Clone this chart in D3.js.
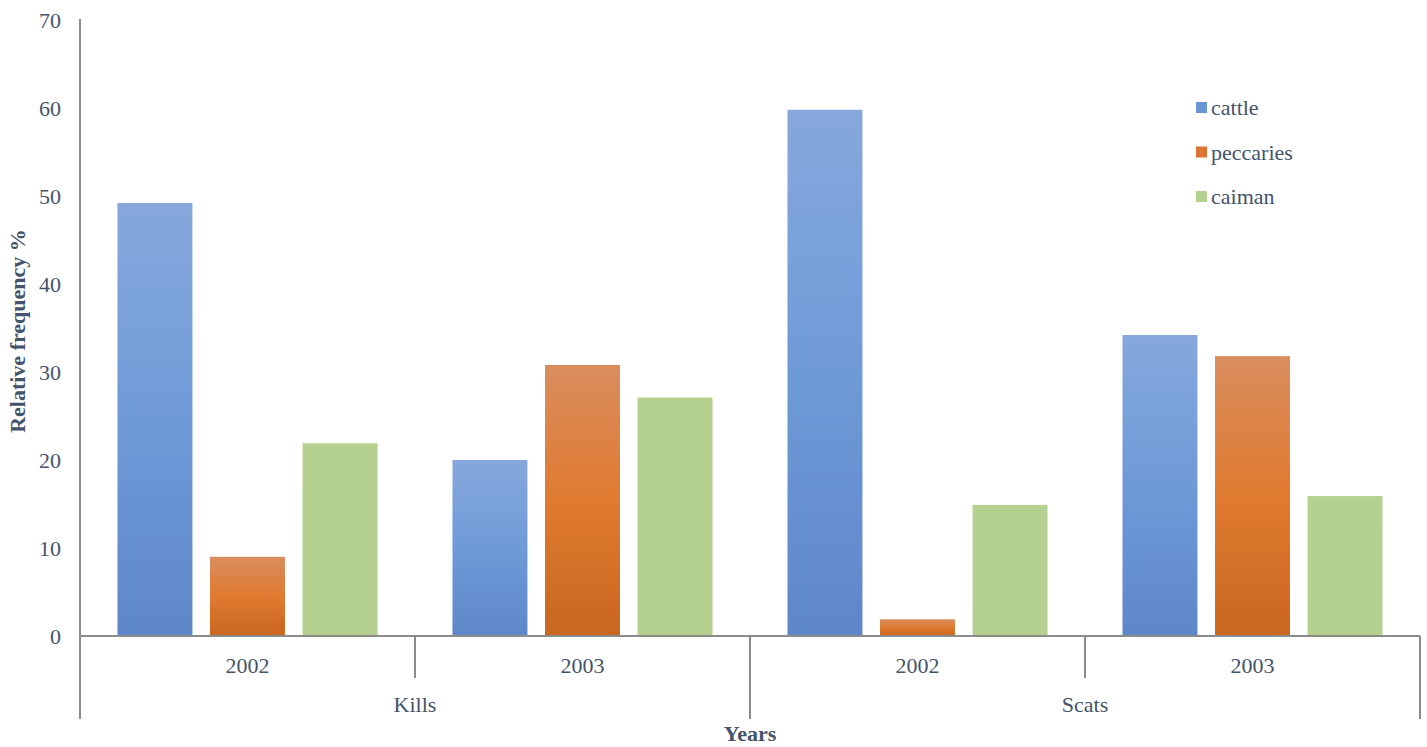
<!DOCTYPE html>
<html>
<head>
<meta charset="utf-8">
<script src="https://cdn.jsdelivr.net/npm/d3@7"></script>
<style>
  html, body { margin: 0; padding: 0; background: #fff; }
</style>
</head>
<body>
<svg id="chart" width="1427" height="747"></svg>
<script>
// Prey composition of jaguar kills and scats by year
const groups = ["Kills", "Scats"];
const years = ["2002", "2003"];
const series = ["cattle", "peccaries", "caiman"];
const cattle = [49.2, 20.0, 59.8, 34.2];
const peccaries = [9.0, 30.8, 1.9, 31.8];
const caiman = [21.9, 27.1, 14.9, 15.9];
const yTicks = [0, 10, 20, 30, 40, 50, 60, 70];

(function () {
  const FONT = '"Liberation Serif", "Times New Roman", serif';
  const TEXT = "#44546a";
  const FS = 22;
  const values = { cattle, peccaries, caiman };
  const categories = [];
  groups.forEach(g => years.forEach(y => categories.push({ group: g, year: y, key: g + "-" + y })));

  const svg = d3.select("#chart");
  const mLeft = 80, mRight = 1420, mTop = 20, mBottom = 636;

  const x0 = d3.scaleBand().domain(categories.map(c => c.key)).range([mLeft, mRight]).padding(0);
  const x1 = d3.scaleBand().domain(series).range([0, x0.bandwidth()]).paddingInner(0.19).paddingOuter(0.405);
  const y = d3.scaleLinear().domain([0, 70]).range([mBottom, mTop]);

  // vertical gradients for the bars
  const defs = svg.append("defs");
  const grads = {
    cattle: [["0%", "#86a8dc"], ["50%", "#6f9ad8"], ["100%", "#5d87c7"]],
    peccaries: [["0%", "#d98d5e"], ["50%", "#e07a30"], ["100%", "#c9661f"]],
    caiman: [["0%", "#b5d190"], ["100%", "#b3d08e"]]
  };
  Object.entries(grads).forEach(([k, stops]) => {
    const g = defs.append("linearGradient").attr("id", "g-" + k)
      .attr("x1", 0).attr("y1", 0).attr("x2", 0).attr("y2", 1);
    stops.forEach(([o, c]) => g.append("stop").attr("offset", o).attr("stop-color", c));
  });
  const swatch = { cattle: "#6a95d3", peccaries: "#dd7431", caiman: "#b4d08f" };

  const txt = sel => sel.attr("font-family", FONT).attr("font-size", FS).attr("fill", TEXT);

  // bars
  const cat = svg.append("g").selectAll("g").data(categories).join("g")
    .attr("transform", c => `translate(${x0(c.key)},0)`);
  cat.selectAll("rect").data((c, i) => series.map(s => ({ s, v: values[s][i] }))).join("rect")
    .attr("x", d => x1(d.s))
    .attr("width", x1.bandwidth())
    .attr("y", d => y(d.v))
    .attr("height", d => y(0) - y(d.v))
    .attr("fill", d => `url(#g-${d.s})`);

  // y axis
  const yAxis = svg.append("g").attr("transform", `translate(${mLeft},0)`)
    .call(d3.axisLeft(y).tickValues(yTicks).tickSize(0).tickPadding(19));
  yAxis.attr("font-family", FONT).attr("font-size", FS);
  yAxis.select(".domain").remove();
  yAxis.selectAll("text").call(txt);

  const axisColor = "#8c8c8c";
  svg.append("line").attr("x1", mLeft).attr("x2", mLeft).attr("y1", mTop - 1).attr("y2", 719)
    .attr("stroke", axisColor).attr("stroke-width", 2);
  svg.append("line").attr("x1", mLeft).attr("x2", mRight).attr("y1", mBottom).attr("y2", mBottom)
    .attr("stroke", axisColor).attr("stroke-width", 2);

  // category dividers: short between years, long between groups
  categories.forEach((c, i) => {
    const xr = x0(c.key) + x0.bandwidth();
    const long = (i % 2 === 1);
    svg.append("line").attr("x1", xr).attr("x2", xr).attr("y1", mBottom).attr("y2", long ? 719 : 678)
      .attr("stroke", axisColor).attr("stroke-width", 2);
  });

  // year labels
  svg.append("g").selectAll("text").data(categories).join("text")
    .attr("x", c => x0(c.key) + x0.bandwidth() / 2)
    .attr("y", 673)
    .attr("text-anchor", "middle")
    .call(txt)
    .text(c => c.year);

  // group labels
  groups.forEach(g => {
    const a = x0(g + "-" + years[0]);
    const b = x0(g + "-" + years[years.length - 1]) + x0.bandwidth();
    svg.append("text").attr("x", (a + b) / 2).attr("y", 712)
      .attr("text-anchor", "middle").call(txt).text(g);
  });

  // axis titles
  svg.append("text").attr("x", 750).attr("y", 741).attr("text-anchor", "middle")
    .call(txt).attr("font-weight", "bold").text("Years");
  svg.append("text").attr("transform", "translate(25,331) rotate(-90)")
    .attr("text-anchor", "middle").call(txt).attr("font-weight", "bold")
    .text("Relative frequency %");

  // legend
  const legend = svg.append("g").attr("transform", "translate(1196,0)");
  series.forEach((s, i) => {
    const cy = 108 + i * 44.5;
    legend.append("rect").attr("x", 0).attr("y", cy - 6).attr("width", 11).attr("height", 11).attr("fill", swatch[s]);
    legend.append("text").attr("x", 15).attr("y", cy + 7).call(txt).text(s);
  });
})();
</script>
</body>
</html>
